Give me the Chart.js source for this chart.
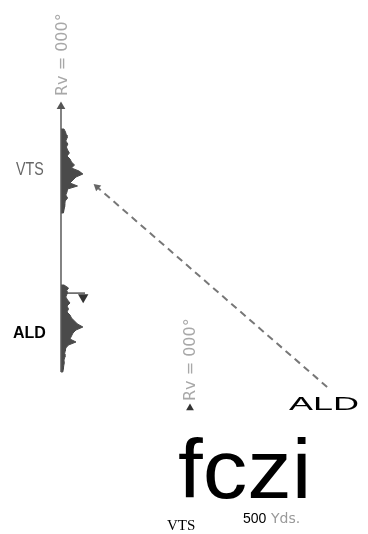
<!DOCTYPE html>
<html>
<head>
<meta charset="utf-8">
<script src="https://cdn.jsdelivr.net/npm/chart.js@4/dist/chart.umd.min.js"></script>
<style>
  html, body { margin: 0; padding: 0; background: #fff; }
  #wrap { width: 368px; height: 534px; }
</style>
</head>
<body>
<div id="wrap"><canvas id="radar" width="368" height="534"></canvas></div>
<script>
// TRACE (range units along the bearing line)
const traceRange = [54, 142.5];

// VTS echo - range and echo level
const vtsRange = [135, 134, 133, 132, 131, 130, 129, 128, 127, 126, 125, 124, 123, 122, 121, 120, 119, 118, 117, 116, 115, 114, 113, 112, 111, 110, 109, 108, 107];
const vtsLevel = [1, 1.5, 1.8, 2, 1.6, 2.3, 1.8, 2.2, 2.8, 2, 3, 3.5, 4.5, 3.5, 6, 7.3, 5, 4, 3, 5.5, 2.2, 2, 1.6, 2.2, 1.4, 1.3, 1.2, 1, 0.8];

// ALD echo - range and echo level
const aldRange = [83, 82, 81, 80, 79, 78, 77, 76, 75, 74, 73, 72, 71, 70, 69, 68, 67, 66, 65, 64, 63, 62, 61, 60, 59, 58, 57, 56, 55, 54];
const aldLevel = [1, 2.5, 1.8, 2, 1.6, 2.2, 3, 2, 2.5, 2, 3, 3.5, 4.5, 5.5, 7.3, 5, 4, 3.5, 3, 5, 2.5, 1.6, 1.4, 1.2, 1.3, 1, 1.1, 0.9, 0.8, 0.6];

// ALD marker + course line to VTS
const markerX = [0, 8];
const markerY = [80.3, 80.3];
const markerTip = { x: 7.4, y: 78.9 };
const courseX = [88.7, 12];
const courseY = [49, 115.7];
const bearingTip = { x: 43, y: 42 };

function echoShape(range, level) {
    let pts = [{ x: 0, y: range[0] }];
    range.forEach((r, i) => pts.push({ x: level[i], y: r }));
    pts.push({ x: 0, y: range[range.length - 1] });
    return pts;
}

// TEXT LABELS
const labels = {
    id: "labels",
    afterDraw(chart) {
        const ctx = chart.ctx;
        ctx.save();

        function vertical(text, x, y) {
            ctx.save();
            ctx.translate(x, y);
            ctx.rotate(-Math.PI / 2);
            ctx.font = "16px 'DejaVu Sans'";
            ctx.fillStyle = "#a8a8a8";
            ctx.textAlign = "left";
            ctx.textBaseline = "alphabetic";
            ctx.fillText(text, 0, 0);
            ctx.restore();
        }
        vertical("Rv = 000°", 67, 96);
        vertical("Rv = 000°", 195, 401);

        // narrow grey VTS
        ctx.save();
        ctx.translate(16, 175);
        ctx.scale(0.75, 1);
        ctx.fillStyle = "#666";
        ctx.font = "19px 'Liberation Sans'";
        ctx.fillText("VTS", 0, 0);
        ctx.restore();

        ctx.fillStyle = "#000";
        ctx.font = "bold 16px 'Liberation Sans'";
        ctx.fillText("ALD", 13, 338);

        // wide ALD
        ctx.save();
        ctx.translate(289, 410);
        ctx.scale(2, 1);
        ctx.font = "18px 'Liberation Sans'";
        ctx.fillStyle = "#000";
        ctx.fillText("ALD", 0, 0);
        ctx.restore();

        ctx.save();
        ctx.translate(178, 498);
        ctx.scale(1.06, 1);
        ctx.font = "84px 'Liberation Sans'";
        ctx.fillStyle = "#000";
        ctx.fillText("fczi", 0, 0);
        ctx.restore();

        ctx.fillStyle = "#000";
        ctx.font = "14px 'Liberation Sans'";
        ctx.fillText("500", 243, 523);
        ctx.fillStyle = "#9a9a9a";
        ctx.font = "14px 'DejaVu Sans'";
        ctx.fillText("Yds.", 271, 523);

        ctx.fillStyle = "#000";
        ctx.font = "15px 'Liberation Serif'";
        ctx.fillText("VTS", 167, 530);

        ctx.restore();
    }
};

new Chart(document.getElementById("radar"), {
    type: "scatter",
    data: {
        datasets: [
            {
                // bearing line with arrow
                data: [{ x: 0, y: traceRange[0] }, { x: 0, y: traceRange[1] }],
                showLine: true,
                borderColor: "#5a5a5a",
                borderWidth: 1.5,
                pointRadius: [0, 5],
                pointStyle: "triangle",
                pointBackgroundColor: "#555",
                pointBorderWidth: 0
            },
            {
                data: echoShape(vtsRange, vtsLevel),
                showLine: true,
                fill: "shape",
                backgroundColor: "#4a4a4a",
                borderColor: "#4a4a4a",
                borderWidth: 1,
                pointRadius: 0
            },
            {
                data: echoShape(aldRange, aldLevel),
                showLine: true,
                fill: "shape",
                backgroundColor: "#4a4a4a",
                borderColor: "#4a4a4a",
                borderWidth: 1,
                pointRadius: 0
            },
            {
                // ALD marker line
                data: markerX.map((x, i) => ({ x: x, y: markerY[i] })),
                showLine: true,
                borderColor: "#555",
                borderWidth: 1.5,
                pointRadius: 0
            },
            {
                // ALD marker triangle
                data: [markerTip],
                pointRadius: 6,
                pointStyle: "triangle",
                rotation: 180,
                pointBackgroundColor: "#333",
                pointBorderWidth: 0
            },
            {
                // course line
                data: courseX.map((x, i) => ({ x: x, y: courseY[i] })),
                showLine: true,
                borderColor: "#777",
                borderWidth: 2,
                borderDash: [7, 5],
                pointRadius: [0, 4.5],
                pointStyle: "triangle",
                rotation: -49,
                pointBackgroundColor: "#666",
                pointBorderWidth: 0
            },
            {
                // second bearing arrow
                data: [bearingTip],
                pointRadius: 4.5,
                pointStyle: "triangle",
                pointBackgroundColor: "#333",
                pointBorderWidth: 0
            }
        ]
    },
    options: {
        responsive: false,
        animation: false,
        layout: { padding: 0, autoPadding: false },
        plugins: { legend: { display: false }, tooltip: { enabled: false } },
        scales: {
            x: { display: false, min: -20.33, max: 102.33 },
            y: { display: false, min: 0, max: 178 }
        }
    },
    plugins: [labels]
});
</script>
</body>
</html>
